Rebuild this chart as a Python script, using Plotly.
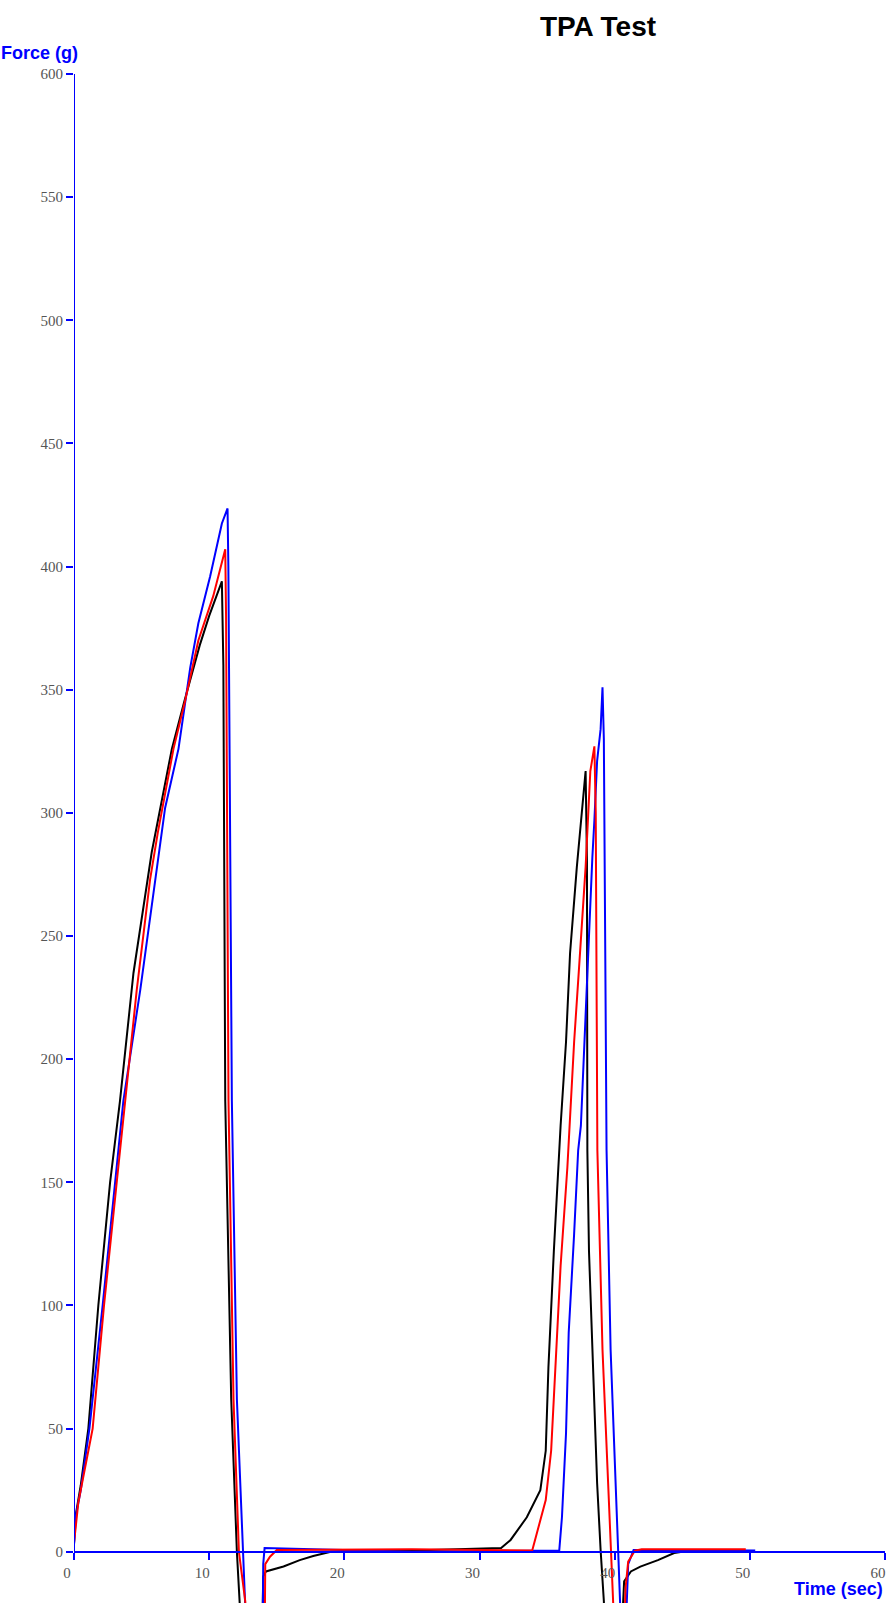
import plotly.graph_objects as go

# ---- data (time in sec, force in g) ----
black_t = [0, 0.07, 0.5, 1.06, 1.8, 2.67, 3.4, 4.4, 5.75, 7.24, 8.15, 9.3, 10.0, 10.57, 10.94,
           11.05, 11.19, 11.63, 12.05, 12.3, 12.5, 13.9, 14.0, 14.2, 15.5, 16.7, 17.7, 19.0,
           25.0, 31.6, 32.3, 33.5, 34.5, 34.9, 35.1, 35.5, 35.9, 36.0, 36.4, 36.7, 37.2, 37.5, 37.85,
           37.95, 37.98, 38.1, 38.35, 38.6, 38.7, 38.96, 39.2, 39.3, 40.5, 40.7, 41.2, 41.9, 43.2,
           44.4, 45.0, 50.0]
black_f = [3, 13, 27, 50, 100, 150, 183, 235, 284, 326, 345, 368, 380, 388, 394,
           360, 183, 62, 0, -25, -40, -40, -10, -8, -6, -3.4, -1.7, 0,
           0.5, 1.5, 4.8, 14, 25, 41, 75, 122, 163, 173, 207, 243, 278, 297, 317,
           280, 163, 122, 82, 48, 28, 0.7, -20, -35, -35, -12, -8, -6, -3.4,
           -0.5, 0, 0]

red_t = [0, 0.32, 1.38, 2.22, 3.16, 3.78, 4.64, 5.63, 6.2, 7.36, 8.2, 9.2, 10.3, 11.19,
         11.25, 11.43, 11.8, 12.2, 12.67, 12.8, 14.1, 14.15, 14.5, 15.0, 25.0, 33.9,
         34.1, 34.9, 35.3, 35.6, 36.0, 36.5, 36.6, 37.0, 37.4, 37.85, 38.2, 38.5,
         38.6, 38.7, 38.72, 39.1, 39.5, 39.8, 39.9, 40.0, 40.7, 40.8, 41.0, 41.5, 42.0, 49.7]
red_f = [3.5, 20, 50, 100, 150, 183, 228, 273, 292, 326, 345, 370, 388, 407,
         380, 183, 62, 0, -20, -40, -40, -5, -2, 0.7, 1, 0.5,
         4.7, 21, 41, 75, 116, 156, 166, 207, 240, 278, 317, 327,
         300, 213, 163, 82, 28, -6, -20, -35, -35, -15, -4, 0.5, 1, 1]

blue_t = [0, 0.15, 0.5, 1.14, 2.12, 3.04, 3.65, 4.9, 6.12, 6.74, 7.73, 8.6, 9.2, 10.07, 10.94, 11.36,
          11.42, 11.68, 12.05, 12.5, 12.7, 12.8, 13.95, 14.0, 14.1, 25.0, 35.9,
          36.1, 36.4, 36.6, 37.0, 37.3, 37.5, 37.85, 38.1, 38.35, 38.5, 38.7, 38.96, 39.1,
          39.2, 39.3, 39.4, 39.7, 40.07, 40.3, 40.4, 40.5, 40.8, 41.0, 41.4, 50.4]
blue_f = [3, 15, 25, 50, 100, 150, 183, 228, 276, 302, 326, 359, 377, 396, 417.5, 423.6,
          400, 183, 62, 0, -20, -40, -40, -5, 1.5, 0, 0.5,
          14, 48, 89, 129, 163, 173, 220, 254, 282, 297, 321, 334, 351,
          330, 250, 163, 82, 28, -2, -20, -35, -35, -5, 0.7, 0.5]

x_ticks = [0, 10, 20, 30, 40, 50, 60]
y_ticks = list(range(0, 601, 50))
x_range = [0, 60]
y_range = [-20.8, 600]

BLUE = "#0000ff"

fig = go.Figure()
fig.add_trace(go.Scatter(x=black_t, y=black_f, mode="lines",
                         line=dict(color="#000000", width=2), showlegend=False))
fig.add_trace(go.Scatter(x=blue_t, y=blue_f, mode="lines",
                         line=dict(color=BLUE, width=2), showlegend=False))
fig.add_trace(go.Scatter(x=red_t, y=red_f, mode="lines",
                         line=dict(color="#ff0000", width=2), showlegend=False))

zero_pos = (0 - y_range[0]) / (y_range[1] - y_range[0])
tickfont = dict(family="Liberation Serif", size=15, color="#555555")

fig.update_layout(
    width=889, height=1603,
    margin=dict(l=74, r=4, t=74, b=0, pad=0),
    paper_bgcolor="white", plot_bgcolor="white",
    title=dict(text="<b>TPA Test</b>", x=598 / 889, xanchor="center",
               y=1 - 26 / 1603, yanchor="middle",
               font=dict(family="Liberation Sans", size=28, color="#000000")),
    xaxis=dict(range=x_range, tickvals=x_ticks, anchor="free", position=zero_pos,
               showline=True, linecolor=BLUE, linewidth=2,
               ticks="outside", ticklen=7, tickwidth=2, tickcolor=BLUE,
               tickfont=tickfont, ticklabelshift=-7,
               showgrid=False, zeroline=False),
    yaxis=dict(range=y_range, tickvals=y_ticks, showline=False,
               ticks="outside", ticklen=7, tickwidth=2, tickcolor=BLUE,
               tickfont=tickfont, showgrid=False, zeroline=False),
    shapes=[dict(type="line", xref="x", yref="y", x0=x_range[0], x1=x_range[0],
                 y0=0, y1=y_ticks[-1], line=dict(color=BLUE, width=2), layer="above")],
    annotations=[
        dict(text="<b>Force (g)</b>", xref="paper", yref="paper",
             x=(80 - 74) / 811, y=1 + (74 - 53) / 1529, xanchor="right", yanchor="middle",
             showarrow=False, font=dict(family="Liberation Sans", size=18, color=BLUE)),
        dict(text="<b>Time (sec)</b>", xref="paper", yref="y",
             x=1, y=-15.1, xanchor="right", yanchor="middle",
             showarrow=False, font=dict(family="Liberation Sans", size=18, color=BLUE)),
    ],
)

fig.write_html("out.html", config={"displayModeBar": False},
               post_script="document.body.style.margin='0';")
